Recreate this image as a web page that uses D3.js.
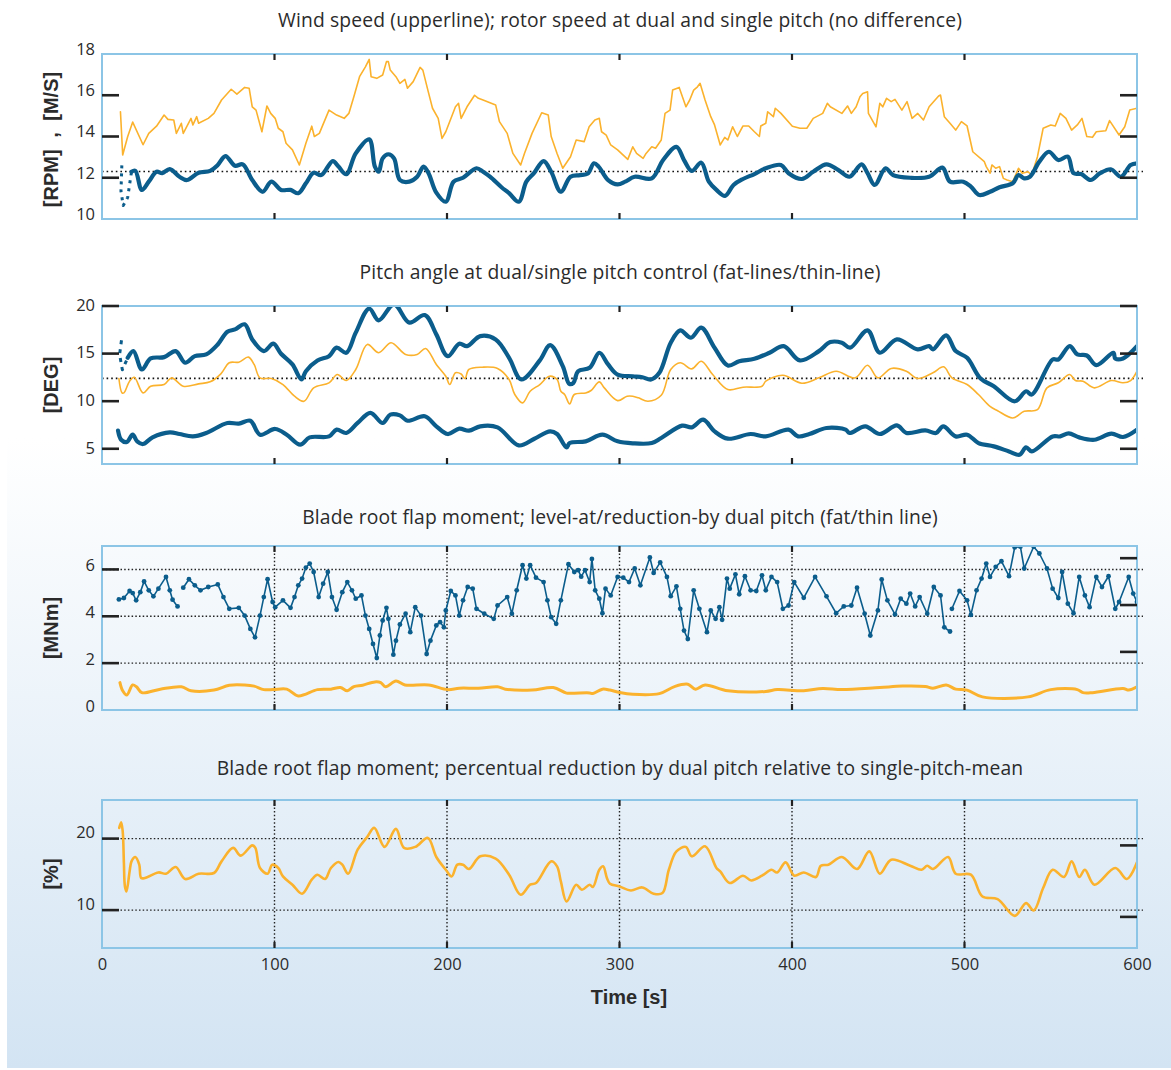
<!DOCTYPE html>
<html>
<head>
<meta charset="utf-8">
<script src="https://cdn.jsdelivr.net/npm/d3@7"></script>
<style>
  body { margin: 0; background: #fff; }
  svg { display: block; }
</style>
</head>
<body>
<div id="chart"></div>
<script>
// ---- data: [time (s), value] ----

// panel 1: wind speed (m/s) and rotor speed (rpm)
const windSpeed = [[10.7,15.2],[12.0,13.1],[14.9,14.0],[17.8,14.7],[23.8,13.6],[27.1,14.15],[31.6,14.5],[36.0,15.04],[38.2,14.83],[41.6,14.8],[43.1,14.15],[46.0,14.64],[47.1,14.15],[51.6,14.88],[52.7,14.56],[54.9,14.96],[56.0,14.64],[61.6,14.88],[64.9,15.12],[69.3,15.77],[74.9,16.29],[78.2,16.05],[82.7,16.38],[85.3,16.34],[87.1,15.44],[89.3,15.28],[92.7,14.23],[95.6,15.48],[97.8,15.12],[100.4,14.88],[102.2,14.4],[104.9,14.23],[106.7,13.67],[110.4,13.35],[114.4,12.62],[118.2,13.67],[121.6,14.5],[123.1,14.0],[126.0,14.15],[131.6,15.28],[136.0,15.04],[140.4,14.88],[143.1,15.12],[146.0,15.93],[149.3,16.9],[152.7,17.38],[154.9,17.74],[156.0,16.9],[159.3,16.82],[162.7,16.98],[164.9,17.63],[166.0,17.63],[167.1,17.22],[170.4,16.9],[172.7,16.58],[175.6,16.77],[177.1,16.34],[180.4,16.66],[184.4,17.35],[186.0,17.22],[188.9,16.25],[191.6,15.37],[194.9,14.88],[197.1,13.91],[199.3,14.23],[204.9,15.44],[206.7,15.61],[208.2,14.88],[211.6,15.44],[216.0,16.0],[218.2,15.85],[220.9,15.77],[228.2,15.53],[230.4,14.72],[234.9,14.15],[238.2,13.18],[242.7,12.62],[244.9,13.18],[249.3,14.15],[254.9,15.15],[258.7,15.04],[260.4,14.0],[263.8,13.18],[267.1,12.46],[271.6,13.02],[274.9,13.83],[279.5,13.75],[282.4,14.47],[285.7,14.8],[288.3,14.88],[289.6,14.23],[292.3,14.07],[294.9,13.59],[298.9,13.35],[304.8,12.89],[307.7,13.5],[309.9,13.18],[313.7,12.94],[315.4,13.18],[318.7,13.5],[320.9,13.43],[324.2,13.83],[326.4,15.12],[329.3,15.28],[330.8,16.25],[334.6,16.38],[338.5,15.44],[340.7,15.77],[343.0,16.25],[345.2,16.41],[346.7,16.58],[349.6,15.77],[352.9,14.96],[355.1,14.56],[358.4,13.59],[361.0,13.96],[362.8,13.83],[365.6,14.47],[368.3,14.0],[371.6,14.51],[374.9,14.51],[378.2,14.23],[381.1,14.0],[381.9,14.51],[384.8,14.64],[385.9,15.2],[389.2,14.96],[390.3,15.37],[393.6,15.12],[400.2,14.5],[404.6,14.4],[408.6,14.4],[412.3,14.88],[417.8,15.12],[420.5,15.61],[422.2,15.44],[428.9,15.12],[432.2,15.48],[434.4,15.12],[437.2,15.44],[439.4,15.93],[441.0,16.09],[443.8,16.17],[444.3,15.12],[448.7,14.47],[450.9,15.61],[452.6,15.44],[454.8,15.85],[457.5,15.69],[459.7,15.8],[463.7,15.28],[466.7,15.69],[469.6,14.88],[472.9,15.12],[476.2,14.8],[479.5,15.44],[485.0,15.96],[486.1,16.01],[488.3,14.96],[491.6,14.64],[494.9,14.31],[498.2,14.72],[501.5,14.51],[504.8,13.26],[511.5,12.78],[512.6,12.54],[514.8,12.22],[515.9,12.62],[518.1,12.46],[520.3,12.54],[522.5,11.97],[524.7,11.89],[528.0,11.81],[531.3,12.46],[533.5,12.22],[536.8,12.29],[539.0,12.13],[542.3,13.02],[545.6,14.4],[550.0,14.56],[552.6,14.51],[555.5,15.12],[558.8,14.88],[562.1,14.31],[565.4,14.56],[568.1,14.88],[570.9,14.0],[574.2,13.96],[576.4,14.23],[581.9,14.28],[584.1,14.77],[589.6,14.07],[592.9,14.47],[595.8,15.28],[600,15.37]];

const rotorSpeedStart = [[11.5,12.6],[11.0,11.35],[12.3,10.65],[14.9,11.05],[17.1,12.29]];

const rotorSpeed = [[17.1,12.29],[19.3,12.34],[23.1,11.41],[27.1,11.81],[31.6,12.29],[34.9,12.22],[39.3,12.42],[44.9,12.05],[49.3,11.89],[56.0,12.24],[62.7,12.33],[67.1,12.62],[71.6,13.05],[77.1,12.58],[81.6,12.65],[87.1,11.89],[93.1,11.32],[98.2,11.81],[103.8,11.41],[109.3,11.41],[113.8,11.25],[118.2,11.73],[122.7,12.24],[127.1,12.13],[133.8,12.81],[137.1,12.54],[141.6,12.17],[147.1,13.18],[154.9,13.86],[158.2,12.54],[160.4,12.29],[162.7,12.94],[166.0,13.14],[169.3,12.94],[172.7,11.89],[178.2,11.81],[182.7,12.05],[186.4,12.54],[189.3,12.22],[193.8,11.28],[199.3,10.84],[203.8,11.81],[209.3,12.0],[217.1,12.46],[220.9,12.29],[224.9,12.05],[231.6,11.54],[236.0,11.25],[241.6,10.84],[246.0,11.81],[250.4,12.22],[256.0,12.81],[260.4,12.29],[266.0,11.32],[271.6,12.05],[277.1,12.13],[281.6,12.2],[285.2,12.7],[287.9,12.54],[293.4,11.89],[298.9,11.68],[303.3,11.81],[308.8,12.05],[318.7,11.97],[325.3,12.86],[333.0,13.5],[337.4,12.86],[341.9,12.33],[347.4,12.73],[351.8,11.81],[356.2,11.41],[361.2,11.12],[366.1,11.65],[371.6,11.94],[378.2,12.18],[384.8,12.46],[393.6,12.62],[398.0,12.22],[405.7,11.94],[412.3,12.29],[420.0,12.65],[426.7,12.38],[433.3,12.05],[440.3,12.65],[443.8,12.22],[448.0,11.65],[454.2,12.46],[458.6,12.13],[468.5,12.0],[479.5,12.05],[487.2,12.49],[491.6,11.81],[499.3,11.81],[503.7,11.57],[508.6,11.16],[514.8,11.32],[520.3,11.54],[528.0,11.73],[531.3,12.13],[534.6,11.97],[537.9,12.05],[543.4,12.78],[548.9,13.26],[554.4,12.86],[559.9,13.02],[563.2,12.22],[567.6,12.18],[573.1,11.89],[578.6,12.22],[584.8,12.41],[590.7,12.05],[596.3,12.62],[600,12.7]];

// panel 2: pitch angle (deg)
const pitchDualHighStart = [[11.3,16.4],[10.2,14.9],[11.8,13.3],[14.9,14.56]];

const pitchDualHigh = [[14.9,14.56],[18.2,15.26],[23.1,13.33],[28.2,14.49],[36.0,14.63],[42.7,15.26],[48.2,14.04],[53.8,14.73],[60.4,14.91],[67.1,15.96],[72.7,17.3],[77.1,17.54],[82.7,18.07],[87.1,16.49],[93.8,15.26],[99.3,16.04],[103.8,14.98],[110.4,13.86],[115.6,12.28],[118.2,13.15],[124.9,14.28],[131.6,14.73],[136.0,15.62],[141.6,15.09],[147.1,17.2],[154.9,19.73],[160.4,18.49],[169.3,20.18],[178.2,18.25],[187.1,19.05],[193.8,17.02],[200.4,14.73],[207.1,16.04],[211.6,15.78],[219.3,16.84],[228.2,16.49],[236.0,14.56],[243.1,12.28],[253.8,14.28],[259.8,15.89],[267.1,13.68],[270.9,11.82],[273.3,11.93],[276.0,13.15],[282.7,13.51],[288.3,15.09],[293.4,13.86],[298.9,12.8],[307.7,12.62],[313.2,12.52],[318.3,12.28],[323.1,12.98],[329.7,16.14],[335.2,17.44],[341.4,16.67],[347.4,17.72],[355.1,15.62],[362.8,13.75],[369.4,14.2],[378.2,14.46],[387.0,15.09],[395.2,15.78],[404.6,14.28],[415.6,15.26],[422.2,16.21],[428.9,16.14],[433.7,15.62],[443.8,17.44],[450.9,15.09],[460.8,16.49],[472.9,15.44],[479.5,15.78],[481.7,15.44],[489.4,16.91],[494.9,15.26],[501.5,14.56],[509.3,12.38],[517.0,11.57],[529.1,9.99],[535.7,11.04],[539.0,10.7],[551.1,14.38],[554.4,14.38],[561.0,15.78],[565.4,14.91],[570.9,14.8],[576.4,13.78],[586.3,15.09],[587.4,14.49],[591.9,14.49],[600,15.78]];

const pitchSingle = [[9.8,12.38],[11.6,10.87],[12.7,10.87],[16.0,12.1],[18.7,12.52],[23.8,10.87],[28.2,11.57],[36.0,11.75],[40.4,12.45],[47.1,11.57],[56.0,11.82],[62.7,12.03],[68.9,12.87],[73.8,14.04],[79.3,14.1],[84.9,14.63],[88.2,13.86],[91.6,12.45],[98.2,12.38],[104.9,11.75],[111.6,10.52],[117.1,9.99],[122.7,11.4],[131.6,11.93],[136.4,12.8],[141.6,12.17],[147.1,13.33],[153.8,15.96],[160.4,15.09],[167.6,16.14],[176.0,14.91],[182.7,14.91],[187.6,15.54],[193.8,13.86],[199.3,12.62],[201.6,11.75],[204.9,12.98],[208.2,12.85],[210.4,12.38],[212.7,13.33],[220.4,13.57],[229.3,13.44],[236.0,12.28],[239.3,10.7],[243.8,9.82],[248.2,11.04],[253.8,11.75],[259.3,12.62],[263.8,12.28],[266.0,11.04],[268.2,10.7],[271.1,9.72],[273.8,10.7],[280.4,10.87],[283.5,11.12],[288.3,12.03],[291.2,11.4],[298.9,10.06],[304.4,10.52],[307.7,10.52],[311.0,10.35],[316.5,9.99],[324.2,10.62],[329.7,13.33],[335.2,14.04],[341.9,13.4],[347.4,14.2],[354.0,12.8],[362.8,11.22],[371.6,11.47],[382.6,11.57],[384.8,12.1],[394.7,12.73],[405.7,11.89],[415.6,12.45],[425.6,13.15],[436.6,12.45],[443.8,13.78],[449.8,12.45],[457.5,13.44],[466.3,13.15],[472.9,12.38],[481.7,12.98],[487.9,13.61],[492.7,12.45],[501.5,11.75],[508.1,10.7],[514.8,9.46],[519.2,9.0],[528.0,8.24],[534.6,8.94],[542.3,9.11],[547.8,11.4],[554.4,11.93],[561.0,12.8],[564.3,12.17],[568.7,12.1],[575.3,11.4],[585.2,12.17],[591.9,11.93],[596.3,12.17],[600,13.15]];

const pitchDualLow = [[9.3,6.9],[11.1,5.95],[14.4,5.71],[17.8,6.48],[20.4,5.78],[23.8,5.5],[29.3,6.2],[39.3,6.72],[44.9,6.55],[52.7,6.3],[60.4,6.66],[72.7,7.71],[79.3,7.64],[86.0,7.95],[91.6,6.48],[100.4,7.08],[107.1,6.48],[114.9,5.43],[120.4,6.2],[131.6,6.3],[136.0,7.01],[141.6,6.66],[148.2,7.71],[155.6,8.77],[162.7,7.71],[167.1,8.59],[172.7,8.51],[177.1,7.95],[187.1,8.41],[193.8,7.36],[200.4,6.55],[207.1,7.11],[212.7,6.9],[219.3,7.36],[229.3,7.25],[241.6,5.35],[250.4,6.03],[259.8,6.83],[263.8,6.55],[269.3,5.14],[271.1,5.6],[280.4,5.78],[290.1,6.48],[298.9,5.78],[307.7,5.57],[318.7,5.6],[324.2,6.13],[336.3,7.43],[341.9,7.25],[348.5,8.06],[355.1,6.83],[362.8,6.06],[376.0,6.55],[384.8,6.3],[398.0,7.01],[403.5,6.3],[410.1,6.55],[420.0,7.18],[431.1,7.01],[433.3,6.66],[442.5,7.36],[450.9,6.55],[460.8,7.46],[466.3,6.66],[477.3,6.93],[483.5,6.66],[487.7,7.36],[494.9,6.3],[501.5,6.48],[508.1,5.6],[517.0,5.25],[525.8,4.72],[531.9,4.37],[535.7,5.14],[539.0,4.72],[551.1,6.3],[555.5,6.3],[560.4,6.62],[566.5,6.2],[575.3,5.95],[585.2,6.59],[591.9,6.24],[600,7.01]];

// panel 3: blade root flap moment (MNm); null = gap in the record
const flapDual = [[9.8,4.72],[12.7,4.78],[16.0,5.08],[17.8,4.99],[19.8,4.68],[22.2,5.03],[24.4,5.49],[27.1,5.11],[29.8,4.85],[32.7,5.18],[37.1,5.68],[39.3,5.11],[40.9,4.71],[43.8,4.42],[45.5,null],[47.1,5.22],[50.4,5.58],[53.8,5.32],[57.1,5.11],[61.6,5.25],[67.1,5.36],[70.4,4.82],[73.8,4.32],[79.3,4.36],[82.7,4.03],[86.0,3.46],[88.7,3.1],[91.6,4.03],[93.8,4.82],[96.0,5.58],[98.9,4.61],[100.4,4.39],[104.9,4.68],[109.3,4.36],[111.6,4.82],[113.8,5.32],[116.0,5.61],[118.2,6.08],[120.4,6.25],[122.7,5.89],[125.6,4.82],[128.2,5.39],[130.9,5.89],[133.3,4.82],[136.0,4.28],[139.3,5.03],[142.2,5.46],[144.9,5.11],[147.1,4.75],[150.4,4.89],[152.7,4.03],[154.9,3.46],[157.1,2.82],[159.3,2.22],[161.1,3.18],[162.7,3.82],[164.9,4.36],[166.0,3.89],[168.9,2.36],[170.4,2.96],[172.7,3.65],[176.0,4.11],[178.7,3.32],[181.6,4.39],[184.9,4.03],[188.2,2.39],[190.4,2.96],[193.8,3.61],[196.0,3.75],[198.2,3.53],[199.3,4.25],[202.2,5.08],[204.9,4.89],[207.1,4.03],[209.3,4.68],[212.0,5.25],[214.9,5.18],[217.1,4.32],[221.6,4.11],[227.1,3.89],[229.3,4.46],[234.9,4.82],[237.6,4.11],[240.4,5.11],[243.8,6.18],[246.0,5.61],[248.2,6.18],[251.6,5.65],[256.0,5.46],[258.2,4.68],[260.4,3.96],[263.3,3.68],[266.0,4.68],[270.4,6.22],[273.8,5.89],[276.0,5.97],[277.8,5.69],[280.0,5.97],[282.7,5.46],[284.0,6.45],[285.9,5.11],[288.3,4.75],[290.1,4.13],[291.9,5.18],[294.9,4.89],[298.9,5.68],[302.2,5.65],[305.5,5.46],[308.8,6.04],[312.1,5.32],[317.6,6.51],[319.8,5.85],[323.6,6.3],[327.5,5.68],[329.7,4.86],[333.0,5.28],[335.2,4.32],[337.4,3.39],[339.6,3.03],[343.0,5.11],[346.3,4.32],[350.7,3.32],[352.9,4.25],[355.7,3.89],[357.9,4.39],[359.5,3.85],[362.3,5.61],[363.9,5.18],[367.2,5.79],[369.4,4.94],[372.7,5.71],[376.0,5.11],[379.3,5.08],[382.6,5.75],[384.8,5.11],[388.1,5.68],[391.4,5.46],[394.7,4.32],[398.0,4.46],[401.3,5.46],[406.8,4.79],[413.4,5.68],[420.0,4.85],[425.6,4.13],[430.0,4.42],[434.4,4.46],[437.7,5.22],[442.1,4.11],[445.4,3.18],[449.8,4.25],[452.0,5.57],[455.3,4.68],[459.7,4.08],[463.0,4.75],[466.3,4.54],[468.5,4.97],[471.4,4.42],[474.0,4.82],[478.4,4.11],[482.2,5.25],[486.1,4.89],[488.3,3.53],[491.6,3.35],[492.2,null],[492.7,4.32],[497.1,5.08],[501.5,4.68],[503.7,4.06],[507.0,5.11],[509.9,5.61],[512.6,6.25],[514.8,5.68],[518.1,6.11],[521.4,6.35],[525.8,5.71],[529.1,6.94],[532.4,6.97],[534.6,6.04],[540.1,6.97],[543.4,6.68],[547.8,6.04],[551.1,5.18],[554.4,4.78],[556.6,5.89],[559.9,4.54],[563.2,4.13],[566.5,5.68],[569.8,4.89],[572.5,4.39],[576.4,5.68],[579.7,5.25],[583.5,5.71],[587.4,4.32],[589.6,4.61],[595.2,5.68],[597.8,4.97],[600,4.61]];

const flapReduction = [[10.4,1.17],[12.0,0.82],[14.4,0.64],[17.8,1.07],[20.0,0.99],[23.1,0.74],[33.8,0.89],[46.0,0.99],[51.6,0.82],[64.9,0.85],[73.8,1.06],[82.7,1.07],[88.2,1.02],[93.8,0.87],[99.3,0.87],[107.1,0.89],[113.8,0.6],[124.9,0.87],[132.7,0.89],[138.2,0.96],[142.2,0.82],[146.0,1.0],[151.1,1.06],[158.2,1.2],[161.6,1.17],[164.4,0.99],[170.4,1.24],[175.6,1.07],[189.3,1.07],[200.4,0.87],[207.1,0.93],[218.2,0.93],[229.3,0.99],[233.8,0.89],[249.3,0.85],[261.6,0.96],[269.3,0.72],[273.8,0.72],[282.7,0.73],[284.6,0.7],[290.1,0.89],[294.5,0.85],[300.0,0.75],[307.7,0.67],[323.1,0.7],[331.9,1.0],[339.6,1.1],[344.1,0.89],[349.6,1.07],[362.8,0.82],[384.8,0.79],[391.4,0.87],[406.8,0.82],[417.8,0.92],[428.9,0.87],[450.9,0.96],[464.1,1.02],[477.3,1.0],[481.7,0.93],[489.4,1.07],[494.9,0.89],[501.5,0.85],[510.4,0.56],[536.8,0.56],[550.0,0.87],[565.4,0.87],[568.7,0.74],[574.2,0.74],[591.9,0.92],[595.2,0.85],[600,0.99]];

// panel 4: percentual reduction (%)
const flapPercent = [[10.0,21.5],[11.1,22.29],[12.0,21.02],[12.7,16.59],[13.3,13.31],[14.2,12.61],[16.0,15.41],[17.1,16.82],[19.3,17.43],[21.6,16.35],[22.7,14.49],[24.9,14.49],[32.7,15.27],[37.1,15.09],[42.7,16.03],[48.2,14.35],[56.0,15.09],[64.9,15.19],[69.3,16.82],[76.0,18.7],[80.4,17.62],[87.1,19.06],[88.9,18.7],[91.6,15.89],[96.0,15.09],[98.7,16.35],[102.2,15.89],[104.9,14.71],[110.4,13.55],[116.0,12.29],[121.6,14.25],[124.9,14.95],[129.3,14.35],[132.7,15.89],[137.1,16.73],[139.3,16.35],[142.7,15.09],[148.2,18.46],[153.8,20.24],[157.8,21.5],[163.8,18.84],[170.4,21.36],[175.1,18.7],[181.6,18.84],[188.9,20.1],[193.8,17.43],[199.3,15.65],[202.7,14.71],[206.0,16.35],[209.3,16.35],[212.7,15.75],[219.3,17.52],[228.2,17.2],[236.0,14.95],[242.7,12.15],[248.2,13.55],[251.6,13.79],[260.4,16.82],[263.8,16.12],[266.0,14.01],[269.3,11.21],[274.9,13.55],[278.2,12.85],[282.7,13.55],[284.6,13.23],[288.3,15.65],[290.5,16.12],[292.7,14.49],[294.5,13.69],[300.0,13.31],[306.6,12.75],[313.2,13.17],[319.8,12.29],[324.9,12.38],[328.6,15.65],[333.0,18.22],[338.5,18.84],[341.9,17.52],[349.6,18.92],[356.2,15.89],[358.4,15.41],[363.9,13.79],[371.6,14.81],[376.4,14.15],[382.6,14.81],[388.1,15.65],[391.4,15.27],[396.3,16.68],[401.3,14.81],[406.8,15.27],[413.9,14.63],[416.7,16.21],[421.1,16.35],[428.9,17.43],[437.7,15.75],[444.8,18.22],[450.9,15.09],[457.5,17.05],[468.5,16.21],[475.1,15.65],[478.4,16.21],[481.7,15.75],[490.5,17.43],[494.9,15.09],[503.7,14.95],[510.4,11.91],[519.2,11.54],[529.1,9.2],[535.7,10.98],[540.1,9.94],[545.6,13.09],[551.1,15.65],[557.7,14.63],[562.1,16.82],[566.5,14.63],[569.8,15.65],[575.3,13.55],[587.4,15.89],[594.1,14.35],[600,16.68]];

// ticks
const timeTicks = [0, 100, 200, 300, 400, 500, 600];
const innerTimeTicks = [100, 200, 300, 400, 500];

// ---- drawing ----
const width = 1171, height = 1070;
const blue = "#0b5d8c", orange = "#fbb22d", boxColor = "#8cc5e6", ink = "#2b2b2b";
const textFont = "'Open Sans', Roboto, sans-serif";
const boldFont = "'Liberation Sans', Arial, sans-serif";

const svg = d3.select("#chart").append("svg")
  .attr("width", width)
  .attr("height", height);

const defs = svg.append("defs");
const grad = defs.append("linearGradient")
  .attr("id", "bg").attr("x1", 0).attr("y1", 0).attr("x2", 0).attr("y2", 1);
grad.append("stop").attr("offset", "0%").attr("stop-color", "#ffffff");
grad.append("stop").attr("offset", "41%").attr("stop-color", "#ffffff");
grad.append("stop").attr("offset", "100%").attr("stop-color", "#d3e4f3");

svg.append("rect")
  .attr("x", 7).attr("y", 0)
  .attr("width", width - 7).attr("height", 1068)
  .attr("fill", "url(#bg)");

const x = d3.scaleLinear().domain([0, 600]).range([102, 1137]);

const smooth = d3.curveCatmullRom.alpha(0.5);

const panels = [
  {
    title: "Wind speed (upperline); rotor speed at dual and single pitch (no difference)",
    titleY: 27, top: 54, bottom: 219, domain: [10, 18],
    labels: [10, 12, 14, 16, 18], labelDy: -5, marks: [12, 14, 16],
    rightDomain: [10, 18], rightMarks: [12, 14, 16],
    yLabel: "[RPM] , [M/S]", yLabelShift: 3,
    refLine: 12.3,
    series: [
      { data: windSpeed, color: orange, width: 1.6, curve: d3.curveLinear },
      { data: rotorSpeedStart, color: blue, width: 3, curve: d3.curveLinear, dash: "3,5" },
      { data: rotorSpeed, color: blue, width: 4.2, curve: smooth }
    ]
  },
  {
    title: "Pitch angle at dual/single pitch control (fat-lines/thin-line)",
    titleY: 279, top: 306, bottom: 464, domain: [3.4, 20],
    labels: [5, 10, 15, 20], labelDy: -1, marks: [5, 10, 15, 20],
    rightDomain: [3.4, 20], rightMarks: [5, 10, 15, 20],
    yLabel: "[DEG]", yLabelShift: 0,
    refLine: 12.4,
    series: [
      { data: pitchSingle, color: orange, width: 1.6, curve: smooth },
      { data: pitchDualHighStart, color: blue, width: 3, curve: d3.curveLinear, dash: "4,5" },
      { data: pitchDualHigh, color: blue, width: 4.2, curve: smooth },
      { data: pitchDualLow, color: blue, width: 4.2, curve: smooth }
    ]
  },
  {
    title: "Blade root flap moment; level-at/reduction-by dual pitch (fat/thin line)",
    titleY: 524, top: 546, bottom: 710, domain: [0, 7],
    labels: [0, 2, 4, 6], labelDy: -4, marks: [2, 4, 6],
    rightDomain: [-0.48, 6.52], rightMarks: [2, 4, 6],
    yLabel: "[MNm]", yLabelShift: 0,
    grid: [2, 4, 6],
    series: [
      { data: flapReduction, color: orange, width: 3, curve: smooth },
      { data: flapDual, color: blue, width: 1.6, curve: d3.curveLinear, dots: true }
    ]
  },
  {
    title: "Blade root flap moment; percentual reduction by dual pitch relative to single-pitch-mean",
    titleY: 775, top: 800, bottom: 948, domain: [4.7, 25.4],
    labels: [10, 20], labelDy: -6, marks: [10, 20],
    rightDomain: [5.65, 26.35], rightMarks: [10, 20],
    yLabel: "[%]", yLabelShift: 0,
    grid: [10, 20],
    series: [
      { data: flapPercent, color: orange, width: 2.6, curve: smooth }
    ]
  }
];

panels.forEach(function(p, i) {
  const y = d3.scaleLinear().domain(p.domain).range([p.bottom, p.top]);
  const yRight = d3.scaleLinear().domain(p.rightDomain).range([p.bottom, p.top]);
  const g = svg.append("g");

  // title
  g.append("text")
    .attr("x", 620).attr("y", p.titleY)
    .attr("text-anchor", "middle")
    .style("font-family", textFont)
    .style("font-size", "19.3px")
    .style("letter-spacing", "0.15px")
    .attr("fill", ink)
    .text(p.title);

  // y axis label
  g.append("text")
    .attr("transform", `translate(58, ${(p.top + p.bottom) / 2 + p.yLabelShift}) rotate(-90)`)
    .attr("text-anchor", "middle")
    .style("font-family", boldFont)
    .style("font-size", "20px")
    .style("font-weight", "bold")
    .style("word-spacing", "6px")
    .attr("fill", ink)
    .text(p.yLabel);

  // grid lines (dotted)
  if (p.grid) {
    g.selectAll(".hgrid").data(p.grid).enter().append("line")
      .attr("x1", x(0)).attr("x2", x(600) + 6)
      .attr("y1", d => y(d)).attr("y2", d => y(d))
      .attr("stroke", "#222").attr("stroke-width", 1.4)
      .attr("stroke-dasharray", "1.5,2.2");
    g.selectAll(".vgrid").data(innerTimeTicks).enter().append("line")
      .attr("x1", d => x(d)).attr("x2", d => x(d))
      .attr("y1", p.top).attr("y2", p.bottom)
      .attr("stroke", "#222").attr("stroke-width", 1.4)
      .attr("stroke-dasharray", "1.5,2.2");
  }

  // dotted reference line
  if (p.refLine != null) {
    g.append("line")
      .attr("x1", x(0)).attr("x2", x(600) + 6)
      .attr("y1", y(p.refLine)).attr("y2", y(p.refLine))
      .attr("stroke", "#111").attr("stroke-width", 1.6)
      .attr("stroke-dasharray", "1.6,3");
  }

  // clip to plot box
  const clipId = "clip" + i;
  defs.append("clipPath").attr("id", clipId)
    .append("rect")
    .attr("x", x(0)).attr("y", p.top - 1)
    .attr("width", x(600) - x(0)).attr("height", p.bottom - p.top + 2);

  const plot = g.append("g").attr("clip-path", `url(#${clipId})`);

  p.series.forEach(function(s) {
    const line = d3.line()
      .defined(d => d[1] != null)
      .x(d => x(d[0]))
      .y(d => y(d[1]))
      .curve(s.curve);

    plot.append("path")
      .datum(s.data)
      .attr("d", line)
      .attr("fill", "none")
      .attr("stroke", s.color)
      .attr("stroke-width", s.width)
      .attr("stroke-linejoin", "round")
      .attr("stroke-linecap", s.dash ? "butt" : "round")
      .attr("stroke-dasharray", s.dash || null);

    if (s.dots) {
      plot.selectAll(null)
        .data(s.data.filter(d => d[1] != null))
        .enter().append("circle")
        .attr("cx", d => x(d[0]))
        .attr("cy", d => y(d[1]))
        .attr("r", 2.4)
        .attr("fill", s.color);
    }
  });

  // plot box
  g.append("rect")
    .attr("x", x(0)).attr("y", p.top)
    .attr("width", x(600) - x(0)).attr("height", p.bottom - p.top)
    .attr("fill", "none")
    .attr("stroke", boxColor)
    .attr("stroke-width", 2);

  // inward tick marks, left and right
  g.selectAll(".lmark").data(p.marks).enter().append("line")
    .attr("x1", x(0)).attr("x2", x(0) + 17)
    .attr("y1", d => y(d)).attr("y2", d => y(d))
    .attr("stroke", "#222").attr("stroke-width", 2.6);

  g.selectAll(".rmark").data(p.rightMarks).enter().append("line")
    .attr("x1", x(600) - 17).attr("x2", x(600))
    .attr("y1", d => yRight(d)).attr("y2", d => yRight(d))
    .attr("stroke", "#222").attr("stroke-width", 2.6);

  // time tick marks, top and bottom
  g.selectAll(".tmark").data(innerTimeTicks).enter().append("line")
    .attr("x1", d => x(d)).attr("x2", d => x(d))
    .attr("y1", p.top).attr("y2", p.top + 6)
    .attr("stroke", "#222").attr("stroke-width", 2.2);
  g.selectAll(".bmark").data(innerTimeTicks).enter().append("line")
    .attr("x1", d => x(d)).attr("x2", d => x(d))
    .attr("y1", p.bottom - 6).attr("y2", p.bottom)
    .attr("stroke", "#222").attr("stroke-width", 2.2);

  // y tick labels
  const yAxis = g.append("g")
    .attr("transform", `translate(${x(0) - 7}, ${p.labelDy})`)
    .call(d3.axisLeft(y).tickValues(p.labels).tickSize(0).tickPadding(0).tickFormat(d3.format("d")));
  yAxis.select(".domain").remove();
  yAxis.selectAll("text")
    .style("font-family", textFont)
    .style("font-size", "16.5px")
    .attr("fill", ink);

  // time axis labels under the last panel
  if (i === panels.length - 1) {
    const xAxis = g.append("g")
      .attr("transform", `translate(0, ${p.bottom + 10})`)
      .call(d3.axisBottom(x).tickValues(timeTicks).tickSize(0).tickPadding(0));
    xAxis.select(".domain").remove();
    xAxis.selectAll("text")
      .style("font-family", textFont)
      .style("font-size", "16.5px")
      .attr("fill", ink);

    g.append("text")
      .attr("x", 629).attr("y", 1004)
      .attr("text-anchor", "middle")
      .style("font-family", boldFont)
      .style("font-size", "20px")
      .style("font-weight", "bold")
      .attr("fill", ink)
      .text("Time [s]");
  }
});
</script>
</body>
</html>
